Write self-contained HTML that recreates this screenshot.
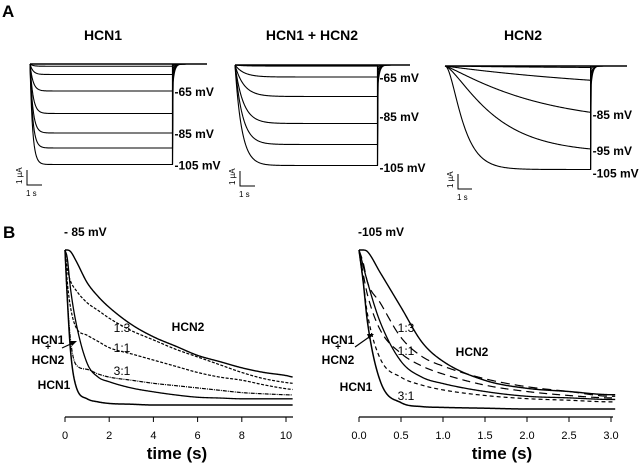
<!DOCTYPE html>
<html><head><meta charset="utf-8">
<style>
html,body{margin:0;padding:0;background:#fff;}
svg{display:block;font-family:"Liberation Sans",Arial,sans-serif;}
.b{font-weight:bold;}
</style></head>
<body>
<svg id="fig" width="640" height="466" viewBox="0 0 640 466" xmlns="http://www.w3.org/2000/svg">
<text x="2" y="17" class="b" font-size="17">A</text>
<text x="3" y="238" class="b" font-size="17">B</text>
<text x="103" y="40" class="b" font-size="14" text-anchor="middle">HCN1</text>
<text x="312" y="40" class="b" font-size="14" text-anchor="middle">HCN1 + HCN2</text>
<text x="523" y="40" class="b" font-size="14" text-anchor="middle">HCN2</text>
<g id="pa"></g>
<g id="pb"></g>
<text x="64" y="236" class="b" font-size="12">- 85 mV</text>
<text x="358" y="236" class="b" font-size="12">-105 mV</text>
</svg>
<script>
// ---------- Panel A data (amplitudes in µA, taus in s) ----------
const aHcn1Amp = [0.15, 0.7, 1.8, 3.3, 4.6, 5.6, 6.7];
const aHcn1Tau = [0.2, 0.2, 0.2, 0.2, 0.19, 0.18, 0.17];
const aMixAmp = [0.07, 0.8, 2.1, 3.9, 5.3, 6.7];
const aMixTau = [0.6, 0.6, 0.6, 0.55, 0.5, 0.45];
const aHcn2Amp = [0.15, 1.9, 3.9, 5.8, 6.9];
const aHcn2Tau = [10, 15, 6, 3, 0.9];
const aHcn2Pow = [1, 1, 1.2, 1.5, 2.2];
const aHcn1Labels = [["-65 mV", 1.8], ["-85 mV", 4.6], ["-105 mV", 6.7]];
const aMixLabels = [["-65 mV", 0.8], ["-85 mV", 3.4], ["-105 mV", 6.8]];
const aHcn2Labels = [["-85 mV", 3.2], ["-95 mV", 5.6], ["-105 mV", 7.1]];

// ---------- Panel B data ----------
const bLeftT = [0,0.1,0.25,0.5,1,1.5,2,3,4,5,6,7,8,9,10,10.3];
const bLeftHcn2 = [1,1,0.99,0.93,0.79,0.70,0.63,0.52,0.44,0.38,0.32,0.28,0.24,0.21,0.19,0.18];
const bLeft13 = [1,0.88,0.8,0.74,0.66,0.61,0.56,0.48,0.42,0.36,0.31,0.26,0.21,0.17,0.145,0.14];
const bLeft11 = [1,0.8,0.63,0.5,0.45,0.41,0.37,0.33,0.29,0.25,0.21,0.18,0.16,0.13,0.105,0.1];
const bLeft31 = [1,0.7,0.42,0.26,0.23,0.2,0.18,0.16,0.14,0.125,0.11,0.095,0.08,0.072,0.066,0.065];
const bLeftMix = [1,0.95,0.75,0.53,0.27,0.18,0.15,0.11,0.085,0.065,0.05,0.045,0.04,0.04,0.04,0.04];
const bLeftHcn1 = [1,0.7,0.35,0.12,0.04,0.02,0.01,0.005,0,0,0,0,0,0,0,0];
const bLeftTicks = [0,2,4,6,8,10];
const bLeftTickLabels = ["0","2","4","6","8","10"];

const bRightT = [0,0.05,0.1,0.25,0.5,0.75,1,1.5,2,2.5,3,3.05];
const bRightHcn2 = [1,1,0.99,0.86,0.64,0.42,0.3,0.18,0.13,0.11,0.09,0.09];
const bRight13 = [1,0.92,0.8,0.67,0.45,0.33,0.27,0.19,0.14,0.11,0.08,0.08];
const bRight11 = [1,0.85,0.72,0.5,0.35,0.27,0.22,0.15,0.11,0.085,0.07,0.07];
const bRightMix = [1,0.9,0.8,0.55,0.3,0.2,0.16,0.11,0.08,0.07,0.06,0.06];
const bRight31 = [1,0.8,0.6,0.32,0.2,0.15,0.12,0.085,0.065,0.055,0.045,0.045];
const bRightHcn1 = [1,0.8,0.55,0.18,0.04,0.015,0.01,0.005,0,0,0,0];
const bRightTicks = [0,0.5,1,1.5,2,2.5,3];
const bRightTickLabels = ["0.0","0.5","1.0","1.5","2.0","2.5","3.0"];

const NS = "http://www.w3.org/2000/svg";
function mk(tag, attrs, parent){
  const e = document.createElementNS(NS, tag);
  for (const k in attrs) e.setAttribute(k, attrs[k]);
  parent.appendChild(e); return e;
}
function txt(s, attrs, parent){ const e = mk("text", attrs, parent); e.textContent = s; return e; }

// ---------- Panel A ----------
const pa = document.getElementById("pa");
function panelA(cfg){
  const g = mk("g", {}, pa);
  
  
  const X = t => cfg.x0 + t * cfg.pxs;
  const Y = i => cfg.y0 + i * cfg.pxu;
  const xEnd = X(cfg.dur);
  // baseline
  const bl = mk("line", {x1:cfg.x0, y1:cfg.y0, x2:cfg.xTail, y2:cfg.y0, stroke:"#000", "stroke-width":1.6}, g);
  
  
  let maxEnd = 0;
  cfg.amps.forEach((A, k) => {
    const tau = cfg.taus[k], p = cfg.pows ? cfg.pows[k] : 1;
    let d = "";
    for (let i = 0; i <= 200; i++) {
      const t = cfg.dur * i / 200;
      const v = A * Math.pow(1 - Math.exp(-t / tau), p);
      d += (i ? "L" : "M") + X(t).toFixed(2) + "," + Y(v).toFixed(2);
      if (i === 200) maxEnd = Math.max(maxEnd, v);
    }
    const endV = A * Math.pow(1 - Math.exp(-cfg.dur / tau), p);
    // tail current
    for (let i = 0; i <= 30; i++) {
      const t = i / 30 * 1.5;
      const v = endV * 0.25 * Math.exp(-t / 0.15) * (i ? 1 : 4);
      d += "L" + (xEnd + t * cfg.pxs * 0.8).toFixed(2) + "," + Y(Math.min(v, endV)).toFixed(2);
    }
    const pth = mk("path", {d:d, fill:"none", stroke:"#000", "stroke-width":1.1}, g);
    
    
  });
  const vl = mk("line", {x1:xEnd, y1:cfg.y0, x2:xEnd, y2:Y(maxEnd), stroke:"#000", "stroke-width":1.2}, g);
  
  
  cfg.labels.forEach(([s, v]) => {
    const t = txt(s, {x:xEnd + 2, y:Y(v) + 5, "font-size":12, class:"b"}, g);
    
    
  });
  // scale bar
  const sx = cfg.sbx, sy = cfg.sby;
  const sb = mk("path", {d:`M${sx},${sy-cfg.pxu}L${sx},${sy}L${sx+cfg.pxs},${sy}`, fill:"none", stroke:"#000", "stroke-width":1}, g);
  
  
  const ua = txt("1 µA", {x:0, y:0, "font-size":8, transform:`translate(${sx-5},${sy-1}) rotate(-90)`}, g);
  
  
  const us = txt("1 s", {x:sx-1, y:sy+11, "font-size":8}, g);
  
  
}
panelA({name:"trace-panel-hcn1", x0:30, y0:64, pxs:15, pxu:15, dur:9.5, xTail:207, amps:aHcn1Amp, taus:aHcn1Tau, labels:aHcn1Labels, sbx:27, sby:185});
panelA({name:"trace-panel-hcn1-hcn2", x0:235, y0:65, pxs:15, pxu:15, dur:9.5, xTail:410, amps:aMixAmp, taus:aMixTau, labels:aMixLabels, sbx:240, sby:186});
panelA({name:"trace-panel-hcn2", x0:445, y0:66, pxs:14, pxu:15, dur:10.4, xTail:627, amps:aHcn2Amp, taus:aHcn2Tau, pows:aHcn2Pow, labels:aHcn2Labels, sbx:458, sby:189});

// ---------- Panel B ----------
const pb = document.getElementById("pb");
function mono(xs, ys){
  const n = xs.length, d = [], m = new Array(n);
  for (let i = 0; i < n-1; i++) d.push((ys[i+1]-ys[i])/(xs[i+1]-xs[i]));
  m[0] = d[0]; m[n-1] = d[n-2];
  for (let i = 1; i < n-1; i++) m[i] = (d[i-1]*d[i] <= 0) ? 0 : (d[i-1]+d[i])/2;
  for (let i = 0; i < n-1; i++) {
    if (d[i] === 0) { m[i] = 0; m[i+1] = 0; continue; }
    const a = m[i]/d[i], b = m[i+1]/d[i], s = a*a + b*b;
    if (s > 9) { const t = 3/Math.sqrt(s); m[i] = t*a*d[i]; m[i+1] = t*b*d[i]; }
  }
  return x => {
    let i = 0; while (i < n-2 && x > xs[i+1]) i++;
    const h = xs[i+1]-xs[i], t = (x-xs[i])/h;
    const h00 = 2*t*t*t-3*t*t+1, h10 = t*t*t-2*t*t+t, h01 = -2*t*t*t+3*t*t, h11 = t*t*t-t*t;
    return h00*ys[i] + h10*h*m[i] + h01*ys[i+1] + h11*h*m[i+1];
  };
}
function panelB(cfg){
  const g = mk("g", {}, pb);
  
  
  const X = t => cfg.x0 + (t - 0) / cfg.tMaxTick * (cfg.xTick - cfg.x0);
  const Y = v => cfg.yBot - v * (cfg.yBot - cfg.yTop);
  cfg.series.forEach(s => {
    const f = mono(cfg.t, s.v);
    const tEnd = cfg.t[cfg.t.length-1];
    let d = "";
    for (let i = 0; i <= 400; i++) {
      const t = tEnd * i / 400;
      d += (i ? "L" : "M") + X(t).toFixed(2) + "," + Y(f(t)).toFixed(2);
    }
    const p = mk("path", {d:d, fill:"none", stroke:"#000", "stroke-width":s.w || 1.2}, g);
    if (s.dash) p.setAttribute("stroke-dasharray", s.dash);
    
    
  });
  const ax = mk("line", {x1:X(0), y1:cfg.yAx, x2:cfg.xAxEnd, y2:cfg.yAx, stroke:"#000", "stroke-width":1.2}, g);
  
  
  cfg.ticks.forEach((tv, i) => {
    const tk = mk("line", {x1:X(tv), y1:cfg.yAx, x2:X(tv), y2:cfg.yAx+5, stroke:"#000", "stroke-width":1}, g);
    
    
    const tl = txt(cfg.tickLabels[i], {x:X(tv), y:cfg.yAx+22, "font-size":11, "text-anchor":"middle"}, g);
    
    
  });
  const at = txt("time (s)", {x:cfg.titleX, y:cfg.yAx+42, "font-size":17, class:"b", "text-anchor":"middle"}, g);
  
  
  cfg.labels.forEach(([s, x, y, bold, fs]) => {
    const t = txt(s, {x:x, y:y, "font-size":fs, "text-anchor":"middle"}, g);
    if (bold) t.setAttribute("class", "b");
    
    
  });
  const ar = mk("path", {d:`M${cfg.arrow[0]},${cfg.arrow[1]}L${cfg.arrow[2]},${cfg.arrow[3]}`, stroke:"#000", "stroke-width":1.2, fill:"none"}, g);
  
  
  const ah = mk("polygon", {points:`${cfg.arrow[2]+2},${cfg.arrow[3]-1} ${cfg.arrow[2]-5},${cfg.arrow[3]-1} ${cfg.arrow[2]-3},${cfg.arrow[3]+4}`, fill:"#000"}, g);
  
  
}
panelB({name:"plot-minus85", x0:65, xTick:286, tMaxTick:10, xAxEnd:293, yTop:250, yBot:405, yAx:417, titleX:177,
  t:bLeftT, ticks:bLeftTicks, tickLabels:bLeftTickLabels,
  series:[
    {name:"hcn2-curve", v:bLeftHcn2, w:1.4},
    {name:"ratio-1-3-curve", v:bLeft13, dash:"3,1.5"},
    {name:"ratio-1-1-curve", v:bLeft11, dash:"3,1.5"},
    {name:"ratio-3-1-curve", v:bLeft31, dash:"4,1,1,1"},
    {name:"hcn1-hcn2-curve", v:bLeftMix, w:1.3},
    {name:"hcn1-curve", v:bLeftHcn1, w:1.5}
  ],
  labels:[["1:3",122,332,false,12],["1:1",122,352,false,12],["3:1",122,375,false,12],["HCN2",188,331,true,12],
          ["HCN1",48,344,true,12],["+",48,350,true,10],["HCN2",48,364,true,12],["HCN1",54,389,true,12]],
  arrow:[62,348,75,342]});
panelB({name:"plot-minus105", x0:359, xTick:611, tMaxTick:3, xAxEnd:613, yTop:250, yBot:409, yAx:417, titleX:502,
  t:bRightT, ticks:bRightTicks, tickLabels:bRightTickLabels,
  series:[
    {name:"hcn2-curve", v:bRightHcn2, w:1.4},
    {name:"ratio-1-3-curve", v:bRight13, dash:"9,5"},
    {name:"ratio-1-1-curve", v:bRight11, dash:"8,5"},
    {name:"ratio-3-1-curve", v:bRight31, dash:"4,3"},
    {name:"hcn1-hcn2-curve", v:bRightMix, w:1.3},
    {name:"hcn1-curve", v:bRightHcn1, w:1.5}
  ],
  labels:[["1:3",406,332,false,12],["1:1",406,355,false,12],["3:1",406,400,false,12],["HCN2",472,356,true,12],
          ["HCN1",338,344,true,12],["+",338,350,true,10],["HCN2",338,364,true,12],["HCN1",356,391,true,12]],
  arrow:[355,347,372,335]});
</script>
</body></html>
